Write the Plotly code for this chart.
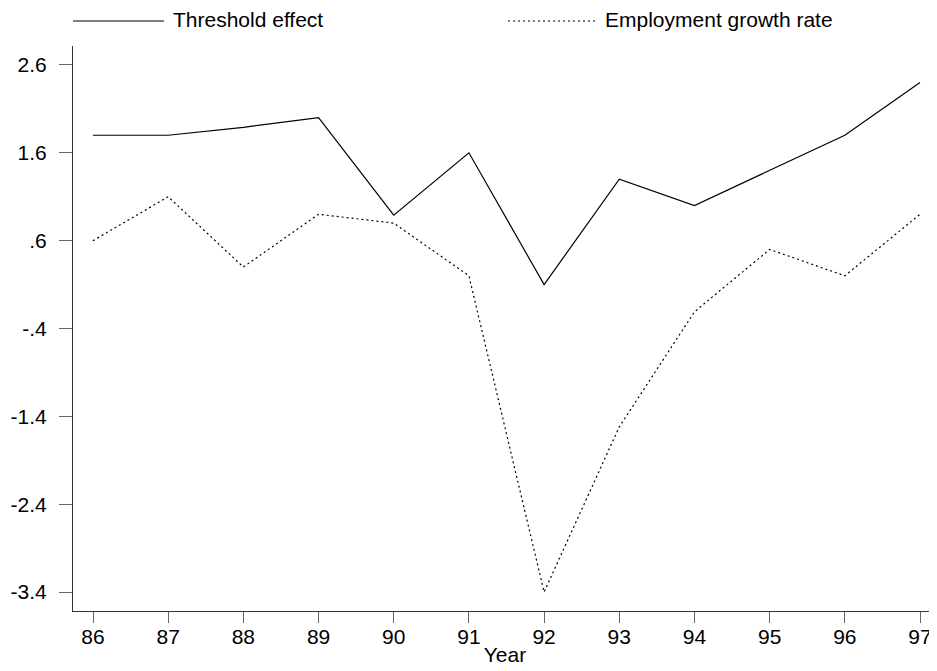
import plotly.graph_objects as go

years = [86, 87, 88, 89, 90, 91, 92, 93, 94, 95, 96, 97]
threshold_effect = [1.80, 1.80, 1.89, 2.00, 0.89, 1.60, 0.10, 1.30, 1.00, 1.40, 1.80, 2.40]
employment_growth = [0.60, 1.10, 0.30, 0.90, 0.80, 0.20, -3.40, -1.52, -0.21, 0.50, 0.20, 0.90]
y_ticks = [2.6, 1.6, 0.6, -0.4, -1.4, -2.4, -3.4]
y_tick_labels = ["2.6", "1.6", ".6", "-.4", "-1.4", "-2.4", "-3.4"]
series_names = ["Threshold effect", "Employment growth rate"]

FONT = "Arial, Liberation Sans, sans-serif"
OFF = 8  # default body margin of the html page
PAGE_W, PAGE_H = 937, 671
W, H = PAGE_W - OFF, PAGE_H - OFF
# plot area in page pixels: x 73..937, y 46..611
ML, MR, MT = 73 - OFF, 0, 46 - OFF
MB = H - (611 - OFF)
PW, PH = W - ML - MR, H - MT - MB


def px_x(p):
    return (p - OFF - ML) / PW


def px_y(p):
    return (H - MB - (p - OFF)) / PH


fig = go.Figure()
fig.add_trace(go.Scatter(x=years, y=threshold_effect, mode="lines", name=series_names[0],
                         line=dict(color="black", width=1.2), showlegend=False))
fig.add_trace(go.Scatter(x=years, y=employment_growth, mode="lines", name=series_names[1],
                         line=dict(color="black", width=1.2, dash="2px,3px"), showlegend=False))

# legend drawn as key lines + text
shapes = [
    dict(type="line", xref="paper", yref="paper", x0=px_x(73), x1=px_x(164), y0=px_y(21), y1=px_y(21),
         line=dict(color="black", width=1.2)),
    dict(type="line", xref="paper", yref="paper", x0=px_x(508), x1=px_x(596), y0=px_y(21), y1=px_y(21),
         line=dict(color="black", width=1.2, dash="2px,3px")),
]
annotations = [
    dict(text=series_names[0], xref="paper", yref="paper", x=px_x(171), y=px_y(19),
         xanchor="left", yanchor="middle", showarrow=False, font=dict(family=FONT, size=21, color="black")),
    dict(text=series_names[1], xref="paper", yref="paper", x=px_x(603), y=px_y(19),
         xanchor="left", yanchor="middle", showarrow=False, font=dict(family=FONT, size=21, color="black")),
]

fig.update_layout(
    width=W, height=H,
    margin=dict(l=ML, r=MR, t=MT, b=MB, autoexpand=False),
    plot_bgcolor="white", paper_bgcolor="white",
    font=dict(family=FONT, size=21, color="black"),
    shapes=shapes, annotations=annotations,
    showlegend=False,
)
fig.update_xaxes(
    range=[85.734, 97.226], tickvals=years, ticktext=[str(y) for y in years],
    showgrid=False, zeroline=False, showline=True, linecolor="#333", linewidth=1,
    ticks="outside", ticklen=11, tickcolor="#666", tickwidth=1, ticklabelstandoff=-4,
    title=dict(text="Year", standoff=0, font=dict(family=FONT, size=21)),
)
fig.update_yaxes(
    range=[-3.616, 2.816], tickvals=y_ticks, ticktext=y_tick_labels,
    showgrid=False, zeroline=False, showline=True, linecolor="#333", linewidth=1,
    ticks="outside", ticklen=13, tickcolor="#666", tickwidth=1, ticklabelstandoff=8,
)

fig.write_html("out.html")
